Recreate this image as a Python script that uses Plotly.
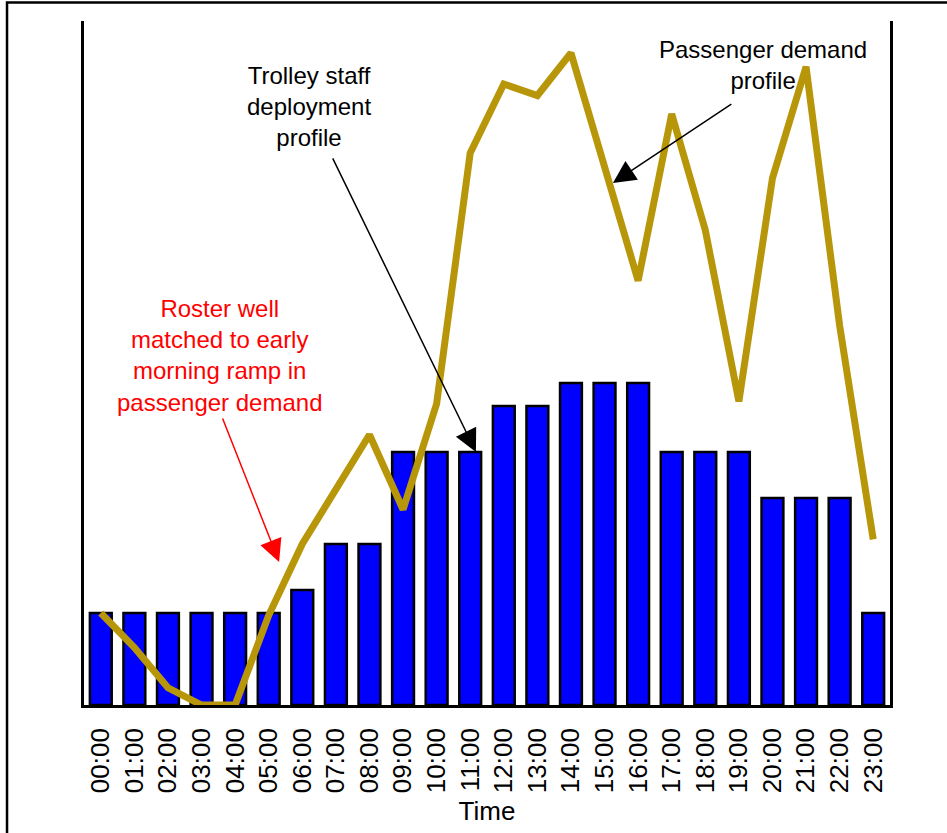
import plotly.graph_objects as go

hours = ["00:00", "01:00", "02:00", "03:00", "04:00", "05:00", "06:00", "07:00",
         "08:00", "09:00", "10:00", "11:00", "12:00", "13:00", "14:00", "15:00",
         "16:00", "17:00", "18:00", "19:00", "20:00", "21:00", "22:00", "23:00"]
staff = [4, 4, 4, 4, 4, 4, 5, 7, 7, 11, 11, 11, 13, 13, 14, 14, 14, 11, 11, 11, 9, 9, 9, 4]
demand = [4.0, 2.5, 0.75, 0.0, 0.0, 3.9, 7.0, 9.35, 11.75, 8.5, 13.1, 24.0,
          27.0, 26.5, 28.35, 23.4, 18.45, 25.7, 20.65, 13.2, 22.9, 27.75, 16.5, 7.2]

FONT = "Liberation Sans, Arial, sans-serif"

fig = go.Figure()
fig.add_trace(go.Bar(x=hours, y=staff, width=0.65,
                     marker=dict(color="#0000FF", line=dict(color="black", width=2.5)),
                     hoverinfo="skip"))
fig.add_trace(go.Scatter(x=hours, y=demand, mode="lines",
                         line=dict(color="#B8960A", width=7),
                         hoverinfo="skip"))

annotations = [
    dict(text="Trolley staff<br>deployment<br>profile", xref="paper", yref="paper",
         x=0.2792, y=0.8743, xanchor="center", yanchor="middle", showarrow=False,
         font=dict(size=24, color="black")),
    dict(text="Passenger demand<br>profile", xref="paper", yref="paper",
         x=0.8424, y=0.9357, xanchor="center", yanchor="middle", showarrow=False,
         font=dict(size=24, color="black")),
    dict(text="Roster well<br>matched to early<br>morning ramp in<br>passenger demand",
         xref="paper", yref="paper", x=0.1687, y=0.511, xanchor="center",
         yanchor="middle", showarrow=False, font=dict(size=24, color="#FF0000")),
    dict(text="", x=11.17, y=11.0, ax=6.885, ay=23.83, xref="x", yref="y",
         axref="x", ayref="y", showarrow=True, arrowhead=2, arrowsize=3,
         arrowwidth=1.5, arrowcolor="black", standoff=0),
    dict(text="", x=15.25, y=22.7, ax=18.82, ay=26.17, xref="x", yref="y",
         axref="x", ayref="y", showarrow=True, arrowhead=2, arrowsize=3,
         arrowwidth=1.5, arrowcolor="black", standoff=0),
    dict(text="", x=5.31, y=6.22, ax=3.61, ay=12.52, xref="x", yref="y",
         axref="x", ayref="y", showarrow=True, arrowhead=2, arrowsize=3,
         arrowwidth=1.5, arrowcolor="#FF0000", standoff=0),
]

fig.update_layout(
    width=947, height=833,
    margin=dict(l=84, r=57, t=21, b=128),
    paper_bgcolor="white", plot_bgcolor="white",
    showlegend=False,
    font=dict(family=FONT, color="black"),
    annotations=annotations,
    shapes=[dict(type="rect", xref="paper", yref="paper",
                 x0=-0.0955, x1=1.09, y0=-0.22, y1=1.027,
                 line=dict(color="black", width=2.5), fillcolor="rgba(0,0,0,0)",
                 layer="above")],
    xaxis=dict(type="category", range=[-0.5, 23.5], showgrid=False, automargin=False,
               tickmode="array", tickvals=hours, ticktext=hours,
               showline=True, linecolor="black", linewidth=2.5, mirror=False,
               ticks="", tickangle=-90, tickfont=dict(size=26, family=FONT),
               ticklabelstandoff=10,
               title=dict(text="Time", font=dict(size=26, family=FONT), standoff=10)),
    yaxis=dict(range=[0, 29.74], showgrid=False, zeroline=False, automargin=False,
               showline=True, linecolor="black", linewidth=2.5, mirror=True,
               ticks="", showticklabels=False),
)

fig.write_html("out.html", config={"displayModeBar": False},
               post_script="document.body.style.margin='0';document.body.style.overflow='hidden';")
